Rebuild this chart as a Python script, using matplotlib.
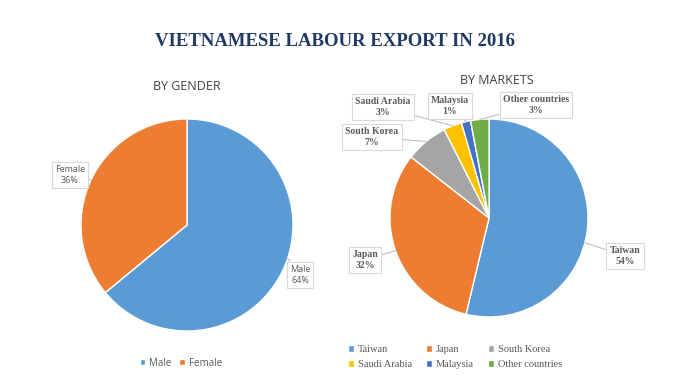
import matplotlib.pyplot as plt
import numpy as np

# data
gender_labels = ['Male', 'Female']
gender_values = [64, 36]

market_labels = ['Taiwan', 'Japan', 'South Korea', 'Saudi Arabia', 'Malaysia', 'Other countries']
market_values = [54, 32, 7, 3, 1.5, 3]
market_text = ['54%', '32%', '7%', '3%', '1%', '3%']

gender_colors = ['#5B9BD5', '#ED7D31']
market_colors = ['#5B9BD5', '#ED7D31', '#A5A5A5', '#FFC000', '#4472C4', '#70AD47']

W, H = 680, 382
fig = plt.figure(figsize=(6.8, 3.82), dpi=100)
ax = fig.add_axes([0, 0, 1, 1])

serif = 'Liberation Serif'
sans = 'Open Sans'
label_grey = '#595959'

fig.text(335 / W, 1 - 42 / H, 'VIETNAMESE LABOUR EXPORT IN 2016', ha='center', va='center',
         fontsize=13.5, fontweight='bold', family=serif, color='#1F3864')
ax.text(187, 87, 'BY GENDER', ha='center', va='center', fontsize=9, family=sans, color='#404040')
ax.text(497, 81, 'BY MARKETS', ha='center', va='center', fontsize=9, family=sans, color='#404040')

# y axis is inverted, so counterclock=True draws clockwise on screen
gw, _ = ax.pie(gender_values, colors=gender_colors, startangle=-90, counterclock=True,
               center=(187, 225), radius=106, frame=True,
               wedgeprops=dict(edgecolor='white', linewidth=1))
mw, _ = ax.pie(market_values, colors=market_colors, startangle=-90, counterclock=True,
               center=(489, 218), radius=99, frame=True,
               wedgeprops=dict(edgecolor='white', linewidth=1))
ax.set_xlim(0, W)
ax.set_ylim(H, 0)
ax.set_aspect('equal')
ax.axis('off')


def edge_point(w, frac=0.5):
    ang = np.deg2rad(w.theta1 + (w.theta2 - w.theta1) * frac)
    cx, cy = w.center
    return cx + w.r * np.cos(ang), cy + w.r * np.sin(ang)


box = dict(boxstyle='square,pad=0.35', fc='white', ec='#D9D9D9', lw=0.8)
arrow = dict(arrowstyle='-', color='#BFBFBF', lw=0.8, shrinkA=0, shrinkB=0)

gender_pos = [(300, 275), (70, 175)]
gender_frac = [0.47, 0.5]
for w, lab, v, pos, fr in zip(gw, gender_labels, gender_values, gender_pos, gender_frac):
    ax.annotate('%s\n%d%%' % (lab, v), xy=edge_point(w, fr),
                xytext=pos, ha='center', va='center', fontsize=6.5, family=sans,
                color=label_grey, bbox=box, arrowprops=arrow, linespacing=1.3)

market_pos = [(625, 256), (365, 260), (372, 137), (383, 107), (450, 106), (536, 105)]
market_frac = [0.54, 0.5, 0.5, 0.5, 0.5, 0.5]
for w, lab, t, pos, fr in zip(mw, market_labels, market_text, market_pos, market_frac):
    ax.annotate('%s\n%s' % (lab, t), xy=edge_point(w, fr), xytext=pos,
                ha='center', va='center', fontsize=7, fontweight='bold', family=serif,
                color=label_grey, bbox=box, arrowprops=arrow, linespacing=1.3)

leg1 = ax.legend(gw, gender_labels, loc='center', bbox_to_anchor=(181 / W, 1 - 363 / H),
                 ncol=2, frameon=False, handlelength=0.6, handleheight=0.6,
                 handletextpad=0.4, columnspacing=0.8,
                 prop=dict(family=sans, size=7))
for t in leg1.get_texts():
    t.set_color(label_grey)
ax.add_artist(leg1)

# legend fills column by column, reorder so rows read like the reference
order = [0, 3, 1, 4, 2, 5]
leg2 = ax.legend([mw[i] for i in order], [market_labels[i] for i in order],
                 loc='center', bbox_to_anchor=(455 / W, 1 - 357 / H),
                 ncol=3, frameon=False, handlelength=0.6, handleheight=0.6,
                 handletextpad=0.4, columnspacing=1.3, labelspacing=0.55,
                 prop=dict(family=serif, size=7.5))
for t in leg2.get_texts():
    t.set_color(label_grey)

fig.savefig('out.png', dpi=100, facecolor='white')
